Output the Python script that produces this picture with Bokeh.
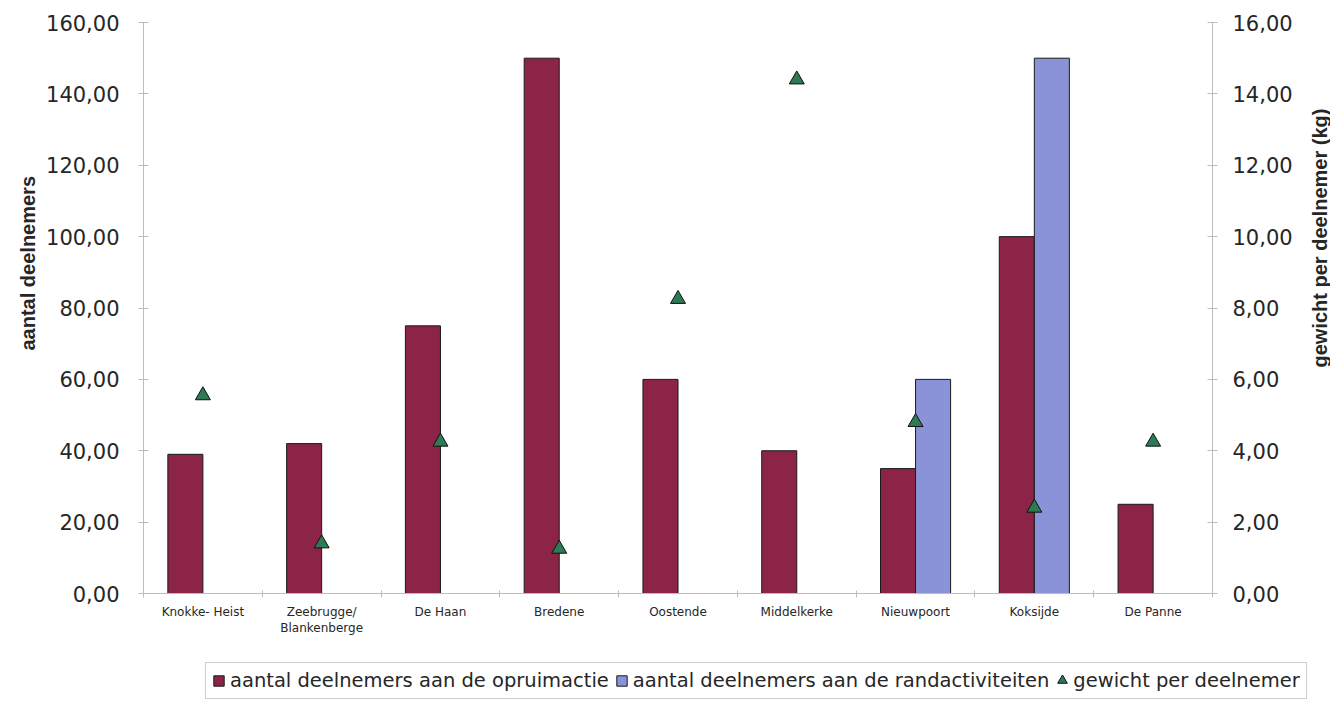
import numpy as np
from bokeh.plotting import figure
from bokeh.layouts import row
from bokeh.models import (Range1d, LinearAxis, FixedTicker, CustomJSTickFormatter,
                          ColumnDataSource, Legend, LegendItem, Title, Label)
from bokeh.embed import file_html
from bokeh.resources import INLINE

# ---- data ----
categories = ["Knokke- Heist", "Zeebrugge/\nBlankenberge", "De Haan", "Bredene", "Oostende",
              "Middelkerke", "Nieuwpoort", "Koksijde", "De Panne"]
opruimactie = [39, 42, 75, 150, 60, 40, 35, 100, 25]
randactiviteiten = [0, 0, 0, 0, 0, 0, 60, 150, 0]
gewicht = [5.55, 1.40, 4.25, 1.25, 8.25, 14.40, 4.80, 2.40, 4.25]
left_ticks = [0, 20, 40, 60, 80, 100, 120, 140, 160]
right_ticks = [0, 2, 4, 6, 8, 10, 12, 14, 16]
series_names = ["aantal deelnemers aan de opruimactie",
                "aantal deelnemers aan de randactiviteiten",
                "gewicht per deelnemer"]
left_title = "aantal deelnemers"
right_title = "gewicht per deelnemer (kg)"

RED = "#8b2447"
BLUE = "#8a93d8"
GREEN = "#2e7a55"
AX = "#bdbdbd"
TXT = "#262626"

n = len(categories)
centers = np.arange(n) + 0.5
bounds = list(np.arange(n + 1).astype(float))
bw = 0.295

W, H = 1300, 655
p = figure(width=W, height=H, output_backend="svg", toolbar_location=None,
           x_range=Range1d(0, n), y_range=Range1d(0, 160),
           min_border_left=143, min_border_right=W - 1212, min_border_top=22,
           min_border_bottom=H - 593)
p.outline_line_color = None
p.grid.visible = False
p.extra_y_ranges = {"right": Range1d(0, 16)}

src_red = ColumnDataSource(dict(x=centers - bw / 2, top=opruimactie))
mask = np.array(randactiviteiten) > 0
src_blue = ColumnDataSource(dict(x=(centers + bw / 2)[mask], top=np.array(randactiviteiten)[mask]))
src_tri = ColumnDataSource(dict(x=centers, y=gewicht))

bar_red = dict(fill_color=RED, line_color="#1a1a1a", line_width=1)
bar_blue = dict(fill_color=BLUE, line_color="#1a1a1a", line_width=1)
tri_style = dict(marker="triangle", fill_color=GREEN, line_color="#111111", line_width=1)

p.vbar(x="x", top="top", width=bw, bottom=0, source=src_red, **bar_red)
p.vbar(x="x", top="top", width=bw, bottom=0, source=src_blue, **bar_blue)
p.scatter(x="x", y="y", source=src_tri, size=15, y_range_name="right", **tri_style)

fmt = CustomJSTickFormatter(code="return tick.toFixed(2).replace('.', ',');")

# x axis
xa = p.xaxis[0]
xa.ticker = FixedTicker(ticks=list(centers), minor_ticks=bounds)
xa.major_label_overrides = {float(c): lab for c, lab in zip(centers, categories)}
xa.major_tick_line_color = None
xa.minor_tick_in = 3
xa.minor_tick_out = 4
xa.minor_tick_line_color = AX
xa.axis_line_color = AX
xa.major_label_text_font = "DejaVu Sans"
xa.major_label_text_font_size = "12px"
xa.major_label_text_color = TXT
xa.major_label_standoff = 5

# left axis
ya = p.yaxis[0]
ya.ticker = FixedTicker(ticks=left_ticks)
ya.formatter = fmt
ya.axis_line_color = AX
ya.major_tick_line_color = AX
ya.major_tick_in = 5
ya.major_tick_out = 5
ya.minor_tick_line_color = None
ya.major_label_text_font = "DejaVu Sans"
ya.major_label_text_font_size = "21px"
ya.major_label_text_color = TXT
ya.major_label_standoff = 19

# right axis
ra = LinearAxis(y_range_name="right", ticker=FixedTicker(ticks=right_ticks), formatter=fmt)
ra.axis_line_color = AX
ra.major_tick_line_color = AX
ra.major_tick_in = 5
ra.major_tick_out = 5
ra.minor_tick_line_color = None
ra.major_label_text_font = "DejaVu Sans"
ra.major_label_text_font_size = "21px"
ra.major_label_text_color = TXT
ra.major_label_standoff = 15
p.add_layout(ra, "right")

# left axis title
lt = Title(text=left_title, align="left", offset=243, text_font="Liberation Sans",
           text_font_size="20px", text_font_style="bold", text_color=TXT)
p.add_layout(lt, "left")

# ---- narrow strip at the right for the right axis title ----
RW = 30
r = figure(width=RW, height=H, output_backend="svg", toolbar_location=None,
           x_range=Range1d(0, RW), y_range=Range1d(0, 160),
           x_axis_location=None, y_axis_location=None,
           min_border_left=0, min_border_right=0, min_border_top=22, min_border_bottom=H - 593)
r.outline_line_color = None
r.grid.visible = False
r.add_layout(Label(x=19, y=99.6, text=right_title, angle=np.pi / 2,
                   text_align="center", text_baseline="middle", text_font="Liberation Sans",
                   text_font_size="20px", text_font_style="bold", text_color=TXT))

# ---- legend strip (separate root below the chart) ----
LH = 45
q = figure(width=W + RW, height=LH, output_backend="svg", toolbar_location=None,
           x_range=Range1d(100, 101), y_range=Range1d(1000, 1001),
           x_axis_location=None, y_axis_location=None, min_border=0)
q.outline_line_color = None
q.grid.visible = False
l_red = q.vbar(x="x", top="top", width=bw, source=src_red, **bar_red)
l_blue = q.vbar(x="x", top="top", width=bw, source=src_blue, **bar_blue)
l_tri_slot = q.scatter(x="x", y="y", size=15, source=src_tri, marker="triangle",
                       fill_alpha=0, line_alpha=0)
l_tri = q.scatter(x="x", y="y", size=15, source=src_tri, **tri_style)

legend = Legend(items=[
    LegendItem(label=series_names[0], renderers=[l_red]),
    LegendItem(label=series_names[1], renderers=[l_blue]),
    LegendItem(label=series_names[2], renderers=[l_tri_slot]),
], orientation="horizontal", location=(205, 1))
legend.label_text_font = "DejaVu Sans"
legend.label_text_font_size = "19.5px"
legend.label_text_color = TXT
legend.glyph_width = 13
legend.glyph_height = 13
legend.label_standoff = 5
legend.spacing = 6
legend.padding = 6
legend.margin = 0
legend.border_line_color = "#9a9a9a"
legend.border_line_width = 1
legend.background_fill_alpha = 1
q.add_layout(legend)

# larger triangle symbol laid over the empty slot of the third legend entry
tri_legend = Legend(items=[LegendItem(label="", renderers=[l_tri])],
                    orientation="horizontal", location=(1050, 8))
tri_legend.glyph_width = 24
tri_legend.glyph_height = 24
tri_legend.label_standoff = 0
tri_legend.padding = 0
tri_legend.margin = 0
tri_legend.spacing = 0
tri_legend.label_text_font_size = "1px"
tri_legend.label_height = 0
tri_legend.border_line_color = None
tri_legend.background_fill_alpha = 0
q.add_layout(tri_legend)

open("out.html", "w").write(file_html([row(p, r), q], INLINE))
